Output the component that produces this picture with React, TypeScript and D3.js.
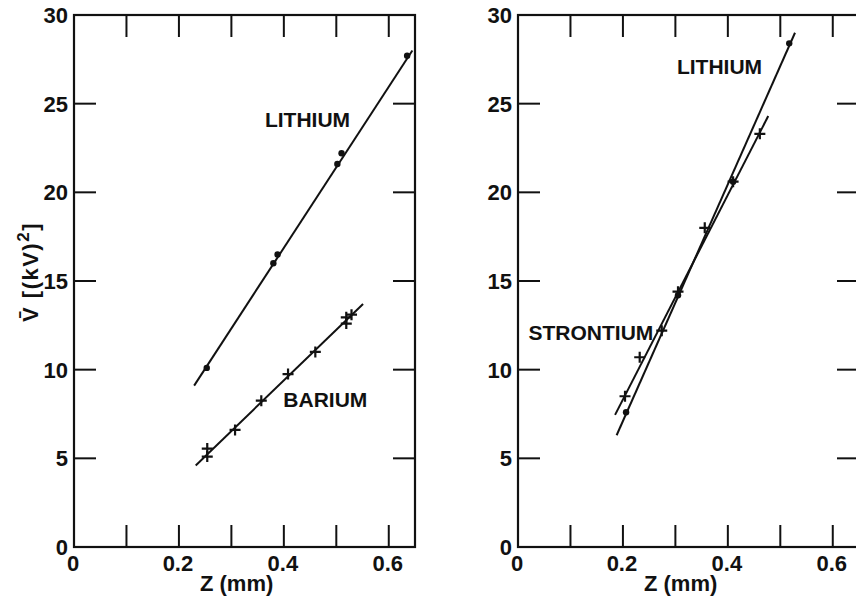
import { useEffect, useRef } from "react";
import * as d3 from "d3";

// left panel: lithium (dots) and barium (crosses)
const liLeftZ = [0.253, 0.38, 0.388, 0.502, 0.51, 0.635];
const liLeftV = [10.1, 16.0, 16.5, 21.6, 22.2, 27.7];
const baZ = [0.254, 0.254, 0.307, 0.357, 0.408, 0.46, 0.519, 0.519, 0.529];
const baV = [5.55, 5.1, 6.6, 8.25, 9.75, 11.0, 12.95, 12.6, 13.1];
const liLeftFit = [[0.229, 9.1], [0.645, 28.0]];
const baFit = [[0.232, 4.6], [0.551, 13.7]];

// right panel: lithium (dots) and strontium (crosses)
const liRightZ = [0.206, 0.305, 0.41, 0.517];
const liRightV = [7.6, 14.2, 20.6, 28.4];
const srZ = [0.204, 0.232, 0.274, 0.305, 0.356, 0.41, 0.461];
const srV = [8.5, 10.7, 12.2, 14.4, 18.0, 20.6, 23.3];
const liRightFit = [[0.188, 6.3], [0.528, 29.0]];
const srFit = [[0.185, 7.45], [0.477, 24.3]];

const xTicks = [0.1, 0.2, 0.3, 0.4, 0.5, 0.6];
const xLabels = [0, 0.2, 0.4, 0.6];
const yTicks = [5, 10, 15, 20, 25];
const yLabels = [0, 5, 10, 15, 20, 25, 30];

const panels = [
  {
    left: 74,
    dots: [liLeftZ, liLeftV],
    crosses: [baZ, baV],
    fits: [liLeftFit, baFit],
    notes: [
      { text: "LITHIUM", z: 0.364, v: 23.7 },
      { text: "BARIUM", z: 0.399, v: 7.9 },
    ],
  },
  {
    left: 518,
    dots: [liRightZ, liRightV],
    crosses: [srZ, srV],
    fits: [liRightFit, srFit],
    notes: [
      { text: "LITHIUM", z: 0.303, v: 26.7 },
      { text: "STRONTIUM", z: 0.02, v: 11.67 },
    ],
  },
];

function App() {
  const chartRef = useRef<SVGSVGElement>(null);

  useEffect(() => {
    const svg = d3.select(chartRef.current);
    svg.selectAll("*").remove();
    const font = "'Liberation Sans', Arial, sans-serif";
    const top = 15;
    const bottom = 547;
    const tick = 22;

    const yScale = d3.scaleLinear().domain([0, 30]).range([bottom, top]);

    panels.forEach((p) => {
      const xScale = d3
        .scaleLinear()
        .domain([0, 0.65])
        .range([p.left, p.left + 341]);
      const g = svg.append("g");
      const x0 = xScale(0);
      const x1 = xScale(0.65);

      g.append("rect")
        .attr("x", x0)
        .attr("y", top)
        .attr("width", x1 - x0)
        .attr("height", bottom - top)
        .attr("fill", "none")
        .attr("stroke", "#111")
        .attr("stroke-width", 2.2);

      // inward ticks
      xTicks.forEach((t) => {
        g.append("line")
          .attr("x1", xScale(t))
          .attr("x2", xScale(t))
          .attr("y1", bottom)
          .attr("y2", bottom - tick)
          .attr("stroke", "#111")
          .attr("stroke-width", 2);
        g.append("line")
          .attr("x1", xScale(t))
          .attr("x2", xScale(t))
          .attr("y1", top)
          .attr("y2", top + tick)
          .attr("stroke", "#111")
          .attr("stroke-width", 2);
      });
      yTicks.forEach((t) => {
        g.append("line")
          .attr("x1", x0)
          .attr("x2", x0 + tick)
          .attr("y1", yScale(t))
          .attr("y2", yScale(t))
          .attr("stroke", "#111")
          .attr("stroke-width", 2);
        g.append("line")
          .attr("x1", x1)
          .attr("x2", x1 - tick)
          .attr("y1", yScale(t))
          .attr("y2", yScale(t))
          .attr("stroke", "#111")
          .attr("stroke-width", 2);
      });

      g.selectAll(".xl")
        .data(xLabels)
        .enter()
        .append("text")
        .attr("x", (d) => xScale(d) - 1)
        .attr("y", 571)
        .attr("text-anchor", "middle")
        .attr("font-family", font)
        .attr("font-weight", "bold")
        .attr("font-size", 22)
        .attr("fill", "#111")
        .text((d) => (d === 0 ? "0" : d.toFixed(1)));

      g.selectAll(".yl")
        .data(yLabels)
        .enter()
        .append("text")
        .attr("x", x0 - 6)
        .attr("y", (d) => yScale(d))
        .attr("dy", "0.36em")
        .attr("text-anchor", "end")
        .attr("font-family", font)
        .attr("font-weight", "bold")
        .attr("font-size", 22)
        .attr("fill", "#111")
        .text((d) => d);

      g.append("text")
        .attr("x", xScale(0.31))
        .attr("y", 591)
        .attr("text-anchor", "middle")
        .attr("font-family", font)
        .attr("font-weight", "bold")
        .attr("font-size", 22)
        .attr("fill", "#111")
        .text("Z (mm)");

      const line = d3
        .line()
        .x((d) => xScale(d[0]))
        .y((d) => yScale(d[1]));
      p.fits.forEach((f) => {
        g.append("path")
          .datum(f)
          .attr("d", line)
          .attr("fill", "none")
          .attr("stroke", "#111")
          .attr("stroke-width", 2);
      });

      const [dz, dv] = p.dots;
      g.selectAll(".dot")
        .data(dz)
        .enter()
        .append("circle")
        .attr("cx", (d) => xScale(d))
        .attr("cy", (d, i) => yScale(dv[i]))
        .attr("r", 3.2)
        .attr("fill", "#111");

      const [cz, cv] = p.crosses;
      g.selectAll(".cross")
        .data(cz)
        .enter()
        .append("path")
        .attr(
          "transform",
          (d, i) => `translate(${xScale(d)},${yScale(cv[i])})`
        )
        .attr("d", "M-5.5,0H5.5M0,-5.5V5.5")
        .attr("stroke", "#111")
        .attr("stroke-width", 2.2);

      p.notes.forEach((n) => {
        g.append("text")
          .attr("x", xScale(n.z))
          .attr("y", yScale(n.v))
          .attr("font-family", font)
          .attr("font-weight", "bold")
          .attr("font-size", 21)
          .attr("fill", "#111")
          .text(n.text);
      });
    });

    const yt = svg
      .append("text")
      .attr("transform", "translate(38,272) rotate(-90)")
      .attr("text-anchor", "middle")
      .attr("font-family", font)
      .attr("font-weight", "bold")
      .attr("font-size", 22)
      .attr("letter-spacing", 1.5)
      .attr("fill", "#111");
    yt.append("tspan").text("V\u0304 [(kV)");
    yt.append("tspan").attr("dy", -9).attr("font-size", 17).text("2");
    yt.append("tspan").attr("dy", 9).text("]");
  }, []);

  return (
    <div style={{ position: "absolute", left: 0, top: 0, background: "white" }}>
      <svg ref={chartRef} width={856} height={596}></svg>
    </div>
  );
}

export default App;
